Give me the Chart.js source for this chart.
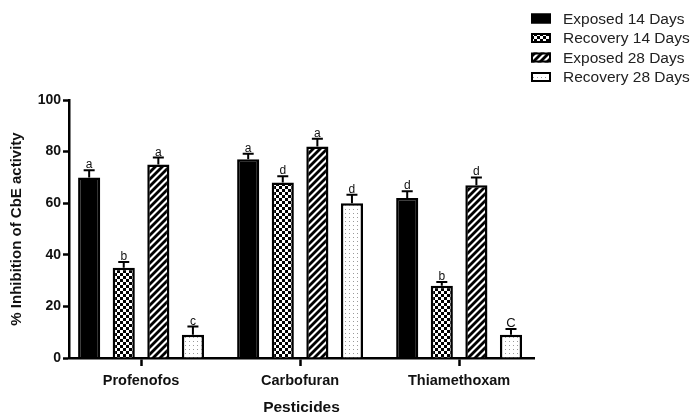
<!DOCTYPE html>
<html>
<head>
<meta charset="utf-8">
<script src="https://cdn.jsdelivr.net/npm/chart.js@4/dist/chart.umd.min.js"></script>
<style>
  html, body { margin: 0; padding: 0; background: #fff; }
  #wrap { width: 694px; height: 415px; }
</style>
</head>
<body>
<div id="wrap"><canvas id="c" width="694" height="415"></canvas></div>
<script>
// Pesticide groups on the x axis
const categories = ['Profenofos', 'Carbofuran', 'Thiamethoxam'];
const seriesLabels = ['Exposed 14 Days', 'Recovery 14 Days', 'Exposed 28 Days', 'Recovery 28 Days'];

// % inhibition of CbE activity (mean) per series
const exposed14 = [70, 77, 62];
const recovery14 = [35, 68, 28];
const exposed28 = [75, 82, 67];
const recovery28 = [9, 60, 9];

// Upper error (SD) per series
const exposed14Err = [2.8, 2.2, 2.6];
const recovery14Err = [2.2, 2.4, 1.5];
const exposed28Err = [2.7, 3.0, 3.0];
const recovery28Err = [3.2, 3.3, 2.2];

// Significance letters above each bar
const exposed14Sig = ['a', 'a', 'd'];
const recovery14Sig = ['b', 'd', 'b'];
const exposed28Sig = ['a', 'a', 'd'];
const recovery28Sig = ['c', 'd', 'C'];

const yTicks = [0, 20, 40, 60, 80, 100];

const FONT = '"Liberation Sans", Arial, sans-serif';

// Fill patterns
function makeTile(w, h, draw) {
  const cv = document.createElement('canvas');
  cv.width = w; cv.height = h;
  const g = cv.getContext('2d');
  draw(g, w, h);
  return document.getElementById('c').getContext('2d').createPattern(cv, 'repeat');
}
const solidFill = '#000000';
const checkerFill = makeTile(6, 6, (g) => {
  g.fillStyle = '#000'; g.fillRect(0, 0, 6, 6);
  g.fillStyle = '#fff'; g.fillRect(0, 0, 3, 3); g.fillRect(3, 3, 3, 3);
});
const hatchFill = makeTile(7, 7, (g, w, h) => {
  g.fillStyle = '#fff'; g.fillRect(0, 0, w, h);
  g.strokeStyle = '#000'; g.lineWidth = 2.8;
  for (let k = -1; k <= 1; k++) {
    g.beginPath();
    g.moveTo(k * w - 1, h + 1);
    g.lineTo(k * w + w + 1, -1);
    g.stroke();
  }
});
const dotFill = makeTile(4, 4, (g) => {
  g.fillStyle = '#fff'; g.fillRect(0, 0, 4, 4);
  g.fillStyle = '#9a9a9a'; g.fillRect(1, 1, 1, 1);
});

const seriesData = [exposed14, recovery14, exposed28, recovery28];
const seriesErr = [exposed14Err, recovery14Err, exposed28Err, recovery28Err];
const seriesSig = [exposed14Sig, recovery14Sig, exposed28Sig, recovery28Sig];
const seriesFill = [solidFill, checkerFill, hatchFill, dotFill];

const datasets = seriesLabels.map((label, i) => ({
  label,
  data: seriesData[i],
  errors: seriesErr[i],
  letters: seriesSig[i],
  backgroundColor: seriesFill[i],
  borderColor: '#000',
  borderWidth: 2.5,
  borderSkipped: 'bottom',
  barPercentage: 0.64,
  categoryPercentage: 0.87
}));

// Upper error bars with caps and significance letters
const errorBarPlugin = {
  id: 'errorBars',
  afterDatasetsDraw(chart) {
    const ctx = chart.ctx;
    const y = chart.scales.y;
    ctx.save();
    chart.data.datasets.forEach((ds, di) => {
      const meta = chart.getDatasetMeta(di);
      meta.data.forEach((bar, i) => {
        const top = y.getPixelForValue(ds.data[i]);
        const end = y.getPixelForValue(ds.data[i] + ds.errors[i]);
        ctx.strokeStyle = '#000';
        ctx.lineWidth = 2;
        ctx.beginPath();
        ctx.moveTo(bar.x, top);
        ctx.lineTo(bar.x, end);
        ctx.moveTo(bar.x - 5.5, end);
        ctx.lineTo(bar.x + 5.5, end);
        ctx.stroke();
        ctx.fillStyle = '#111';
        ctx.font = (ds.letters[i] === 'C' ? '13px ' : '12px ') + FONT;
        ctx.textAlign = 'center';
        ctx.textBaseline = 'alphabetic';
        ctx.fillText(ds.letters[i], bar.x, end - 2);
      });
    });
    ctx.restore();
  }
};

// Legend block at the top right
const legendPlugin = {
  id: 'boxLegend',
  afterDraw(chart) {
    const ctx = chart.ctx;
    ctx.save();
    const x0 = 531, y0 = 18.5, rowH = 19.5;
    chart.data.datasets.forEach((ds, i) => {
      const cy = y0 + i * rowH;
      ctx.fillStyle = ds.backgroundColor;
      ctx.fillRect(x0, cy - 5, 20, 10);
      ctx.strokeStyle = '#000';
      ctx.lineWidth = 2;
      ctx.strokeRect(x0 + 1, cy - 4, 18, 8);
      ctx.fillStyle = '#222';
      ctx.font = '15.5px ' + FONT;
      ctx.textAlign = 'left';
      ctx.textBaseline = 'middle';
      ctx.fillText(ds.label, 563, cy + 1);
    });
    ctx.restore();
  }
};

new Chart(document.getElementById('c'), {
  type: 'bar',
  data: { labels: categories, datasets },
  options: {
    responsive: false,
    animation: false,
    layout: { padding: { top: 100, right: 160, left: 0, bottom: 0 } },
    plugins: {
      legend: { display: false },
      tooltip: { enabled: false }
    },
    scales: {
      x: {
        offset: true,
        // groups sit slightly wider than an even split of the axis
        afterBuildTicks(scale) { scale._startValue = -0.453; scale._valueRange = 2.924; },
        grid: { display: true, drawOnChartArea: false, offset: false, tickLength: 8, tickWidth: 2.5, tickColor: '#000' },
        border: { display: true, color: '#000', width: 2.5 },
        ticks: { color: '#111', padding: 6, font: { family: FONT, size: 14.5, weight: 'bold' } },
        title: { display: true, text: 'Pesticides', color: '#111', padding: { top: 10, bottom: 0 }, font: { family: FONT, size: 15.5, weight: 'bold', lineHeight: 0.95 } },
        afterFit(scale) { scale.height = 57; }
      },
      y: {
        min: 0, max: 100,
        afterBuildTicks(scale) { scale.ticks = yTicks.map(v => ({ value: v })); },
        grid: { display: true, drawOnChartArea: false, tickLength: 6, tickWidth: 2.5, tickColor: '#000' },
        border: { display: true, color: '#000', width: 2.5 },
        ticks: { color: '#111', padding: 2, font: { family: FONT, size: 14, weight: 'bold' } },
        title: { display: true, text: '% Inhibition of CbE activity', color: '#111', padding: { top: 8, bottom: 0 }, font: { family: FONT, size: 15, weight: 'bold' } },
        afterFit(scale) { scale.width = 69; }
      }
    }
  },
  plugins: [errorBarPlugin, legendPlugin]
});
</script>
</body>
</html>
